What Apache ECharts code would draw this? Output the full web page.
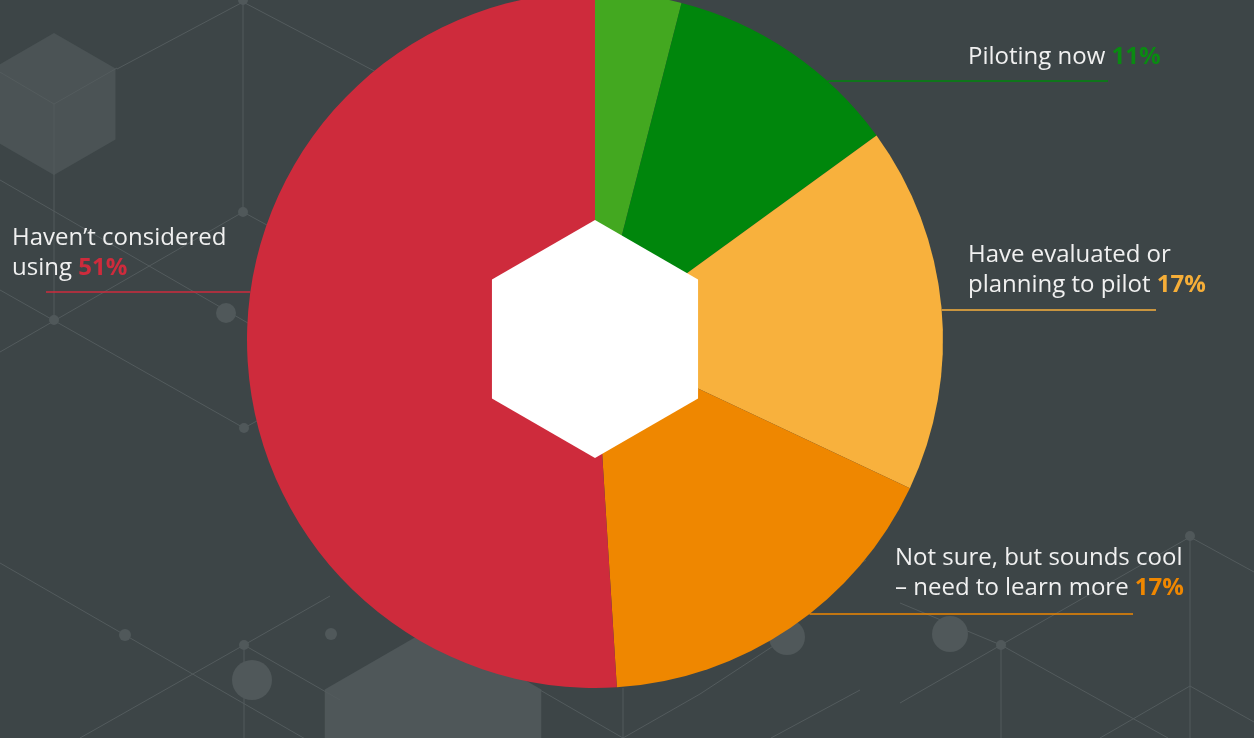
<!DOCTYPE html>
<html>
<head>
<meta charset="utf-8">
<script src="https://cdn.jsdelivr.net/npm/echarts@6/dist/echarts.min.js"></script>
<style>
html,body{margin:0;padding:0;background:#3d4547;}
#chart{width:1254px;height:738px;}
</style>
</head>
<body>
<div id="chart"></div>
<script>
// ---- data ----
const categories = [
  'Already using',
  'Piloting now',
  'Have evaluated or\nplanning to pilot',
  'Not sure, but sounds cool\n– need to learn more',
  'Haven\u2019t considered\nusing'
];
const values = [4, 11, 17, 17, 51];
const showLabel = [false, true, true, true, true];

// ---- styles / layout ----
const sliceColors = ['#43a820', '#00860c', '#f8b13d', '#ef8700', '#ce2b3c'];
const pctColors   = ['#43a820', '#0a8a12', '#f6ae38', '#ef8700', '#ce2b3c'];
const CX = 595, CY = 340, R = 348;
const labelPlace = [
  null,
  {x: 968, y: 72,  lineY: 81,  lineEnd: 1108},
  {x: 968, y: 300, lineY: 310, lineEnd: 1156},
  {x: 895, y: 603, lineY: 614, lineEnd: 1133},
  {x: 12,  y: 283, lineY: 292, lineEnd: 46}
];

const chart = echarts.init(document.getElementById('chart'), null, {renderer: 'canvas'});

const seriesData = categories.map((name, i) => ({
  name: name,
  value: values[i],
  itemStyle: {color: sliceColors[i]},
  label: {
    show: showLabel[i],
    rich: {
      t: {color: '#f0f0f0', fontSize: 24, lineHeight: 30, fontFamily: 'Open Sans'},
      p: {color: pctColors[i], fontSize: 24, lineHeight: 30, fontWeight: 'bold', fontFamily: 'Open Sans'}
    }
  },
  labelLine: {show: showLabel[i], lineStyle: {color: sliceColors[i], width: 1.5}}
}));

// background decoration
const lineColor = '#535b5d';
const bgLines = [
  [117,69,243,2],[243,2,420,95],[243,0,243,212],[54,175,54,320],
  [243,212,0,352],[243,212,300,243],[0,180,260,330],[0,290,244,428],
  [244,428,275,411],[0,563,340,759],[244,645,330,596],[244,645,340,700],
  [80,738,244,645],[244,645,244,738],[-7,68,54,104],[117,68,54,104],[54,104,54,175],
  [1190,537,1254,572],[1190,537,1001,645],[1001,645,1168,738],[1001,645,1001,738],
  [900,603,1001,645],[900,703,1001,645],[866,560,780,610],[771,738,860,690],
  [1190,537,1190,738],[1100,738,1190,686],[1190,686,1254,722],
  [623,688,623,738],[540,690,623,738],[623,738,700,694],[700,694,787,637]
];
const bgDots = [
  [243,0,5],[243,212,5],[54,320,5],[226,313,10],[244,428,5],[125,635,6],
  [244,645,5],[252,680,20],[331,634,6],[787,637,18],[950,634,18],
  [1001,645,5],[1190,536,5]
];
function hexPoints(cx, cy, r) {
  const pts = [];
  for (let k = 0; k < 6; k++) {
    const a = Math.PI / 180 * (-90 + 60 * k);
    pts.push([cx + r * Math.cos(a), cy + r * Math.sin(a)]);
  }
  return pts;
}
const graphics = [];
graphics.push({type: 'polygon', z: -5, shape: {points: hexPoints(54, 104, 71)}, style: {fill: '#4b5355'}, silent: true});
graphics.push({type: 'polygon', z: -5, shape: {points: hexPoints(433, 752, 125)}, style: {fill: '#4f5759'}, silent: true});
bgLines.forEach(l => graphics.push({type: 'line', z: -4, silent: true,
  shape: {x1: l[0], y1: l[1], x2: l[2], y2: l[3]}, style: {stroke: lineColor, lineWidth: 1}}));
bgDots.forEach(d => graphics.push({type: 'circle', z: -3, silent: true,
  shape: {cx: d[0], cy: d[1], r: d[2]}, style: {fill: '#50585a'}}));
// center hexagon
graphics.push({type: 'polygon', z: 100, silent: true, shape: {points: hexPoints(595, 339, 119)}, style: {fill: '#ffffff'}});

chart.setOption({
  backgroundColor: '#3d4547',
  animation: false,
  graphic: graphics,
  series: [{
    type: 'pie',
    center: [CX, CY],
    radius: R,
    startAngle: 90,
    clockwise: true,
    avoidLabelOverlap: false,
    emphasis: {disabled: true},
    data: seriesData,
    label: {
      position: 'outside',
      formatter: function (p) {
        const lines = p.name.split('\n');
        return lines.map((l, k) => k === lines.length - 1
          ? '{t|' + l + ' }{p|' + p.value + '%}'
          : '{t|' + l + '}').join('\n');
      }
    },
    labelLine: {show: true, length: 10, length2: 10},
    labelLayout: function (params) {
      const pl = labelPlace[params.dataIndex];
      if (!pl) return {};
      const side = pl.lineEnd > CX ? 1 : -1;
      const edgeX = CX + side * Math.sqrt(R * R - (pl.lineY - CY) * (pl.lineY - CY));
      return {
        x: pl.x, y: pl.y, align: 'left', verticalAlign: 'bottom',
        labelLinePoints: [[edgeX, pl.lineY], [(edgeX + pl.lineEnd) / 2, pl.lineY], [pl.lineEnd, pl.lineY]]
      };
    }
  }]
});
</script>
</body>
</html>
